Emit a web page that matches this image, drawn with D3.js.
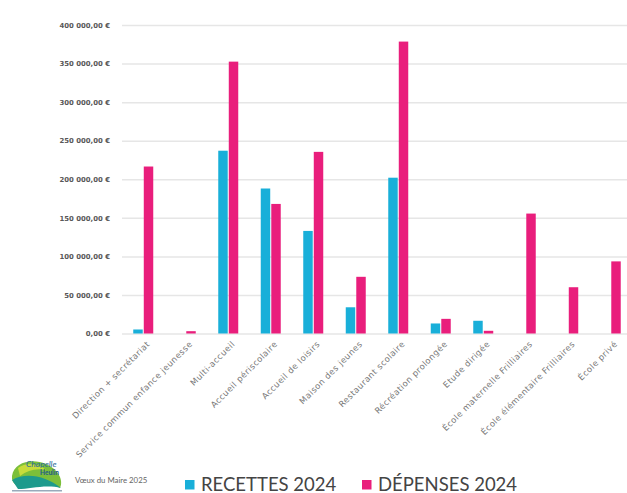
<!DOCTYPE html>
<html>
<head>
<meta charset="utf-8">
<script src="https://cdn.jsdelivr.net/npm/d3@7"></script>
<style>
  body { margin: 0; background: #fff; }
  svg { display: block; }
  .grid line { stroke: #e6e6e6; stroke-width: 1.5; }
  .grid .domain { display: none; }
  .y-axis text { font-family: 'DejaVu Sans', sans-serif; font-weight: bold; font-size: 6.9px; fill: #585858; }
  .x-axis text { font-family: 'DejaVu Sans', sans-serif; font-size: 8.4px; letter-spacing: 0.45px; fill: #777; }
  .legend text { font-family: 'Lato', sans-serif; fill: #444; }
</style>
</head>
<body>
<div id="chart"></div>
<script>
let categories = [
  'Direction + secrétariat',
  'Service commun enfance jeunesse',
  'Multi-accueil',
  'Accueil périscolaire',
  'Accueil de loisirs',
  'Maison des jeunes',
  'Restaurant scolaire',
  'Récréation prolongée',
  'Etude dirigée',
  'École maternelle Frilliaires',
  'École élémentaire Frilliaires',
  'École privé'
];
let recettes = [5200, 0, 237000, 188000, 133000, 34000, 202000, 13000, 16500, 0, 0, 0];
let depenses = [216500, 3000, 352500, 168000, 235500, 73500, 378500, 19000, 3500, 155500, 60000, 93500];
let seriesNames = ['RECETTES 2024', 'DÉPENSES 2024'];
let colors = ['#19afd9', '#e91e7c'];
let yTicks = [0, 50000, 100000, 150000, 200000, 250000, 300000, 350000, 400000];

let W = 627, H = 493;
let margin = { top: 25, left: 122, bottom: 333.5 };

let data = categories.map((c, i) => ({ cat: c, values: [recettes[i], depenses[i]] }));

let svg = d3.select('#chart').append('svg').attr('width', W).attr('height', H);

let y = d3.scaleLinear().domain([0, 400000]).range([margin.bottom, margin.top]);
let x0 = d3.scaleBand().domain(categories).range([margin.left, margin.left + 42.5 * 12]).paddingInner(0.48).paddingOuter(0.24);
let x1 = d3.scaleBand().domain([0, 1]).range([0, x0.bandwidth()]).padding(0.1);

let fmt = (v) => {
  let s = d3.format(',.2f')(v).replace(/,/g, ' ').replace('.', ',');
  return s + ' €';
};

// grid lines
svg.append('g')
  .attr('class', 'grid')
  .attr('transform', `translate(${margin.left},0)`)
  .call(d3.axisRight(y).tickValues(yTicks).tickSize(W - margin.left).tickFormat(''));

// y axis labels
svg.append('g')
  .attr('class', 'y-axis')
  .attr('transform', `translate(${margin.left - 9},0)`)
  .call(d3.axisLeft(y).tickValues(yTicks).tickSize(0).tickFormat(fmt))
  .call((g) => g.select('.domain').remove());

// bars
svg.append('g')
  .selectAll('g')
  .data(data)
  .join('g')
  .attr('transform', (d) => `translate(${x0(d.cat)},0)`)
  .selectAll('rect')
  .data((d) => d.values.map((v, i) => ({ v: v, i: i })))
  .join('rect')
  .attr('x', (d) => x1(d.i))
  .attr('width', x1.bandwidth())
  .attr('y', (d) => y(d.v))
  .attr('height', (d) => y(0) - y(d.v))
  .attr('fill', (d) => colors[d.i]);

// x axis labels
let xAxis = svg.append('g')
  .attr('class', 'x-axis')
  .attr('transform', `translate(0,${margin.bottom})`)
  .call(d3.axisBottom(x0).tickSize(0))
  .call((g) => g.select('.domain').remove());
xAxis.selectAll('text')
  .attr('text-anchor', 'end')
  .attr('dy', 0)
  .attr('transform', 'translate(5,9) rotate(-45)');

// legend
let legend = svg.append('g').attr('class', 'legend');
let lx = [185, 362];
seriesNames.forEach((n, i) => {
  legend.append('rect').attr('x', lx[i]).attr('y', 480).attr('width', 9.5).attr('height', 9.5).attr('fill', colors[i]);
  legend.append('text').attr('x', lx[i] + 16).attr('y', 490.5).attr('font-size', 18.5).text(n);
});

// logo + footer text
let logo = svg.append('g');
logo.append('path').attr('d', 'M12,476 C14,462 32,458 46,464 C58,469 64,480 60,488 C50,482 40,480 30,486 C20,489 11,485 12,476 Z').attr('fill', '#7cbf3a');
logo.append('path').attr('d', 'M12,480 C26,472 46,476 61,488 C46,484 30,489 18,489 Z').attr('fill', '#1d9a8c');
logo.append('path').attr('d', 'M18,468 C26,462 38,463 46,470 C36,468 28,470 20,476 Z').attr('fill', '#c7dc3a');
logo.append('text').attr('x', 26).attr('y', 467).attr('font-family', 'Lato, sans-serif').attr('font-style', 'italic').attr('font-size', 8.5).attr('fill', '#2b6b9a').text('Chapelle');
logo.append('text').attr('x', 40).attr('y', 475).attr('font-family', 'Lato, sans-serif').attr('font-weight', 'bold').attr('font-size', 6.5).attr('fill', '#1e5a8a').text('Heulin');
logo.append('rect').attr('x', 12).attr('y', 490).attr('width', 50).attr('height', 1.5).attr('fill', '#9ab');
svg.append('text').attr('x', 75).attr('y', 483).attr('font-family', 'Lato, sans-serif').attr('font-size', 7.8).attr('fill', '#666').text('Vœux du Maire 2025');
</script>
</body>
</html>
